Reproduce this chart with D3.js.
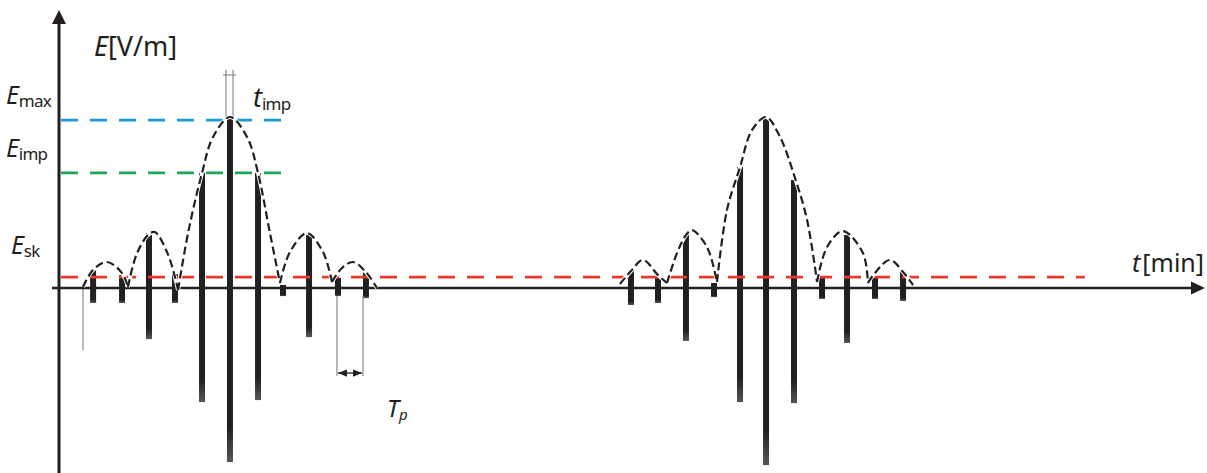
<!DOCTYPE html>
<html>
<head>
<meta charset="utf-8">
<script src="https://cdn.jsdelivr.net/npm/d3@7"></script>
<style>
  html, body { margin: 0; padding: 0; background: #fff; }
  svg text { font-family: "Noto Sans", "Open Sans", sans-serif; fill: #231f20; }
</style>
</head>
<body>
<div id="chart"></div>
<script>
// pulse centres [arbitrary time units], upper and lower amplitude (E / Emax)
const pulseT   = [3.0, 5.55, 7.92, 10.21, 12.59, 15.05, 17.52, 19.72, 22.01, 24.56, 27.02,
                  50.35, 52.73, 55.19, 57.66, 59.95, 62.24, 64.70, 67.17, 69.37, 71.83, 74.30];
const pulseMax = [0.107, 0.077, 0.327, 0.083, 0.685, 1.018, 0.685, 0.018, 0.315, 0.06, 0.095,
                  0.101, 0.071, 0.315, 0.03, 0.72, 1.018, 0.643, 0.06, 0.315, 0.06, 0.095];
const pulseMin = [-0.089, -0.089, -0.304, -0.089, -0.679, -1.036, -0.667, -0.048, -0.292, -0.048, -0.06,
                  -0.101, -0.089, -0.315, -0.054, -0.679, -1.054, -0.685, -0.065, -0.327, -0.065, -0.077];

// dashed envelope lobes, [t, E]
const lobes = [
  [[2.11,0.006],[2.99,0.107],[4.23,0.155],[5.55,0.089],[6.07,0.006]],
  [[6.07,0.006],[6.87,0.208],[7.92,0.321],[8.45,0.333],[9.51,0.214],[10.21,0.065],[10.48,-0.012]],
  [[10.48,-0.012],[11.36,0.327],[12.59,0.685],[13.56,0.899],[15.05,1.018],[16.55,0.899],[17.52,0.685],[18.57,0.327],[19.45,0.03]],
  [[19.45,0.03],[20.33,0.214],[21.83,0.327],[23.24,0.214],[24.03,0.036]],
  [[24.03,0.036],[24.91,0.119],[25.88,0.155],[27.02,0.095],[27.99,0]],
  [[49.38,0.024],[50.35,0.101],[51.41,0.167],[52.73,0.077],[53.52,0.03]],
  [[53.52,0.03],[54.40,0.208],[55.19,0.315],[55.72,0.345],[57.04,0.244],[57.92,0.036]],
  [[57.92,0.036],[58.80,0.464],[59.95,0.72],[61.0,0.94],[62.24,1.018],[63.47,0.899],[64.79,0.655],[65.85,0.405],[66.73,0.036]],
  [[66.73,0.036],[67.61,0.244],[69.01,0.339],[70.77,0.208],[71.21,0.03]],
  [[71.21,0.03],[71.83,0.09],[73.15,0.167],[74.30,0.095],[75.18,0.018]]
];

// reference levels
const levelNames  = ["Emax", "Eimp", "Esk"];
const levelValues = [1.0, 0.685, 0.065];
const levelEndT   = [20.0, 20.0, 90.3];
const levelColors = ["#1a9ad6", "#1fa659", "#ec3a2a"];

// thin guide lines and markers
const guideT   = [2.11];
const periodT  = [24.47, 26.76];
const impT     = [14.70, 15.32];

const width = 1207, height = 473;
const x = d3.scaleLinear().domain([0, 100]).range([59, 1195]);
const y = d3.scaleLinear().domain([-1.101, 1.655]).range([473, 10]);

const svg = d3.select("#chart").append("svg")
  .attr("width", width).attr("height", height);

// pulses, slightly faded at the lower tip
const defs = svg.append("defs");
const grad = defs.append("linearGradient").attr("id", "tip")
  .attr("x1", 0).attr("x2", 0).attr("y1", 0).attr("y2", 1);
grad.append("stop").attr("offset", "0.9").attr("stop-color", "#231f20");
grad.append("stop").attr("offset", "1").attr("stop-color", "#5a5657");

svg.append("g").attr("class", "pulses")
  .selectAll("rect").data(pulseT).enter()
  .append("rect")
    .attr("x", function(d) { return x(d) - 3; })
    .attr("y", function(d, i) { return y(pulseMax[i]); })
    .attr("width", 6)
    .attr("height", function(d, i) { return y(pulseMin[i]) - y(pulseMax[i]); })
    .attr("fill", "url(#tip)");

// thin gray guides
const guides = svg.append("g").attr("stroke", "#8a8a8a").attr("stroke-width", 1.2);
guides.selectAll("line.g").data(guideT).enter().append("line")
  .attr("x1", d => x(d)).attr("x2", d => x(d))
  .attr("y1", y(0)).attr("y2", y(-0.369));
guides.selectAll("line.p").data(periodT).enter().append("line")
  .attr("x1", d => x(d)).attr("x2", d => x(d))
  .attr("y1", y(-0.048)).attr("y2", y(-0.524));
guides.selectAll("line.i").data(impT).enter().append("line")
  .attr("x1", d => x(d)).attr("x2", d => x(d))
  .attr("y1", y(1.30)).attr("y2", y(1.0));
guides.append("line")
  .attr("x1", x(impT[0]) - 3).attr("x2", x(impT[1]) + 3)
  .attr("y1", y(1.268)).attr("y2", y(1.268));

// period arrow
defs.append("marker").attr("id", "ah")
  .attr("viewBox", "0 0 10 10").attr("refX", 10).attr("refY", 5)
  .attr("markerWidth", 7).attr("markerHeight", 7).attr("orient", "auto-start-reverse")
  .append("path").attr("d", "M0,1L10,5L0,9Z").attr("fill", "#231f20");
svg.append("line")
  .attr("x1", x(periodT[0]) + 1).attr("x2", x(periodT[1]) - 1)
  .attr("y1", y(-0.506)).attr("y2", y(-0.506))
  .attr("stroke", "#231f20").attr("stroke-width", 1.3)
  .attr("marker-start", "url(#ah)").attr("marker-end", "url(#ah)");

// axes
const axes = svg.append("g").attr("stroke", "#231f20").attr("fill", "#231f20");
axes.append("line")
  .attr("x1", x(0)).attr("x2", x(0))
  .attr("y1", y.range()[0]).attr("y2", y.range()[1] + 10)
  .attr("stroke-width", 3);
axes.append("path")
  .attr("d", `M${x(0)},${y.range()[1]}L${x(0) + 7},${y.range()[1] + 14}L${x(0) - 7},${y.range()[1] + 14}Z`)
  .attr("stroke", "none");
axes.append("line")
  .attr("x1", x(-0.62)).attr("x2", x(100.88) - 10)
  .attr("y1", y(0)).attr("y2", y(0))
  .attr("stroke-width", 2.5);
axes.append("path")
  .attr("d", `M${x(100.88)},${y(0)}L${x(100.88) - 14},${y(0) - 6.5}L${x(100.88) - 14},${y(0) + 6.5}Z`)
  .attr("stroke", "none");

// reference levels
svg.append("g").selectAll("line").data(levelValues).enter()
  .append("line")
    .attr("x1", x(0) + 2)
    .attr("x2", function(d, i) { return x(levelEndT[i]); })
    .attr("y1", d => y(d)).attr("y2", d => y(d))
    .attr("stroke", function(d, i) { return levelColors[i]; })
    .attr("stroke-width", 2.8)
    .attr("stroke-dasharray", "17,12");

// envelope
const line = d3.line()
  .curve(d3.curveCatmullRom.alpha(0.5))
  .x(d => x(d[0])).y(d => y(d[1]));
const env = svg.append("g").attr("fill", "none");
env.selectAll("path.casing").data(lobes).enter().append("path")
  .attr("class", "casing").attr("d", line)
  .attr("stroke", "#fff").attr("stroke-width", 4);
env.selectAll("path.dash").data(lobes).enter().append("path")
  .attr("class", "dash").attr("d", line)
  .attr("stroke", "#231f20").attr("stroke-width", 2.2)
  .attr("stroke-dasharray", "8,4");

// labels
function label(px, py, main, sub, size, subSize, italicSub) {
  const t = svg.append("text").attr("x", px).attr("y", py).attr("font-size", size);
  t.append("tspan").attr("font-style", "italic").text(main);
  if (sub) {
    t.append("tspan").attr("font-size", subSize).attr("dy", 3)
      .attr("font-style", italicSub ? "italic" : "normal")
      .attr("letter-spacing", -0.8).text(sub);
  }
  return t;
}
label(6, y(levelValues[0]) - 16, "E", "max", 25, 17);
label(6, y(levelValues[1]) - 16, "E", "imp", 25, 17);
label(11, y(levelValues[2]) - 23, "E", "sk", 25, 17);
label(253, y(1.0) - 13, "t", "imp", 27, 17);

const yl = svg.append("text").attr("x", 94).attr("y", 56).attr("font-size", 27);
yl.append("tspan").attr("font-style", "italic").text("E");
yl.append("tspan").text("[V/m]");

const xl = svg.append("text").attr("x", 1132).attr("y", 272).attr("font-size", 25);
xl.append("tspan").attr("font-style", "italic").text("t");
xl.append("tspan").attr("dx", 2).text("[min]");

label(387, y(-0.506) + 44, "T", "p", 24, 15, true);
</script>
</body>
</html>
